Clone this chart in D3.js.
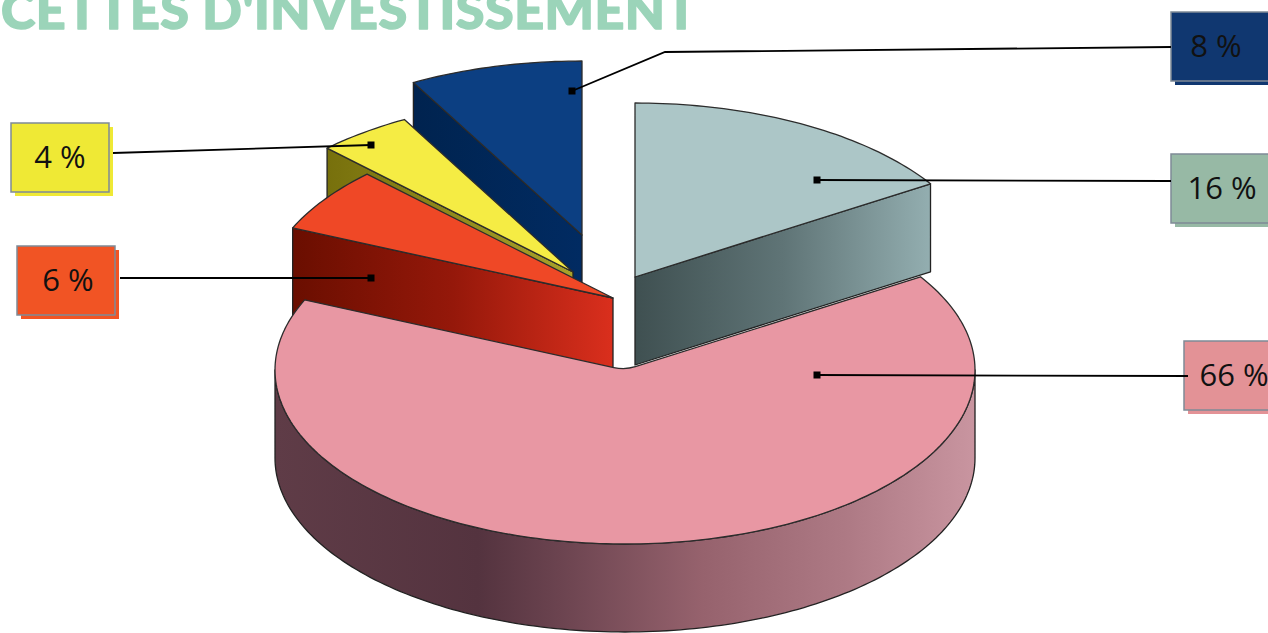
<!DOCTYPE html>
<html>
<head>
<meta charset="utf-8">
<title>Recettes d'investissement</title>
<script src="https://d3js.org/d3.v7.min.js"></script>
<style>
	html, body { margin: 0; padding: 0; background: #fff; overflow: hidden; }
	svg { display: block; }
</style>
</head>
<body>
<svg id="chart" width="1268" height="633"></svg>
<script>
// Data, clockwise from 12 o'clock
var titleText = "CETTES D'INVESTISSEMENT";
var sliceNames = ["teal", "pink", "red", "yellow", "blue"];
var sliceValues = [16, 65.6, 6, 4.4, 8];

// Layout and colours
var topColors = ["#acc6c7", "#e897a3", "#ef4826", "#f5ec44", "#0c3f82"];
var boxColors = ["#97b9a5", "#e39296", "#f15424", "#efe935", "#103770"];
var wallStops = [
	[[0, "#3f5051"], [0.5, "#5f7476"], [1, "#93aeb0"]],
	[[0, "#5f3c47"], [0.29, "#54333f"], [0.41, "#6c4450"], [0.61, "#96626d"], [0.82, "#ae7a85"], [1, "#c995a0"]],
	[[0, "#6a0e00"], [0.5, "#95180a"], [1, "#da2f1d"]],
	[[0, "#77700c"], [1, "#a9a22a"]],
	[[0, "#00234f"], [1, "#012b62"]]
];
var sliceOffsets = [[10, -93], [0, 0], [-12, -72], [-52, -98], [-43, -135]];
var drawOrder = [4, 3, 2, 0, 1];
var boxRects = [[1171, 154], [1184, 341], [17, 246], [11, 123], [1171, 12]];
var textCentres = [1222, 1234, 68, 60, 1216];
var leaders = [
	[[817, 180], [1171, 181]],
	[[817, 375], [1188, 376]],
	[[371, 278], [120, 278]],
	[[371, 145], [113, 153]],
	[[572, 91], [665, 52], [1171, 47]]
];

var cx = 625, cy = 370, rx = 350, ry = 174, depth = 88;
var boxW = 98, boxH = 69;

var svg = d3.select("#chart");
var defs = svg.append("defs");

var arcs = d3.pie().sort(null).startAngle(0).endAngle(2 * Math.PI)(sliceValues);

function rim(a, off) {
	return [cx + off[0] + rx * Math.sin(a), cy + off[1] - ry * Math.cos(a)];
}
function rimPoints(a0, a1, off) {
	var n = Math.ceil(Math.abs(a1 - a0) / 0.02);
	return d3.range(n + 1).map(function (i) { return rim(a0 + (a1 - a0) * i / n, off); });
}
function down(p) { return [p[0], p[1] + depth]; }
// point t of the way from p to q
function toward(p, q, t) { return [p[0] + (q[0] - p[0]) * t, p[1] + (q[1] - p[1]) * t]; }

var outline = d3.line();

// Title, cut off by the top of the page
svg.append("text")
	.attr("x", 1)
	.attr("y", 28.5)
	.attr("textLength", 696)
	.attr("lengthAdjust", "spacing")
	.style("font-family", "Lato, sans-serif")
	.style("font-weight", 900)
	.style("font-size", "52px")
	.style("fill", "#9bd4b9")
	.style("stroke", "#9bd4b9")
	.style("stroke-width", 1.5)
	.style("stroke-linejoin", "round")
	.text(titleText);

// Slices, back to front
drawOrder.forEach(function (i) {
	var d = arcs[i], off = sliceOffsets[i];
	var apex = [cx + off[0], cy + off[1]];
	var big = d.endAngle - d.startAngle > Math.PI;
	var wall;

	if (big) {
		// front of the rim
		var front = rimPoints(Math.PI / 2, 3 * Math.PI / 2, off);
		wall = front.concat(front.slice().reverse().map(down));
	} else {
		// the cut face that looks at the viewer
		var a = (d.startAngle + d.endAngle) / 2 < Math.PI ? d.endAngle : d.startAngle;
		var r = rim(a, off);
		wall = [apex, r, down(r), down(apex)];
	}

	var xs = d3.extent(wall, function (p) { return p[0]; });
	var grad = defs.append("linearGradient")
		.attr("id", "wall-" + sliceNames[i])
		.attr("gradientUnits", "userSpaceOnUse")
		.attr("x1", xs[0]).attr("x2", xs[1])
		.attr("y1", 0).attr("y2", 0);
	grad.selectAll("stop")
		.data(wallStops[i])
		.enter().append("stop")
		.attr("offset", function (s) { return s[0]; })
		.attr("stop-color", function (s) { return s[1]; });

	svg.append("path")
		.attr("d", outline(wall) + "Z")
		.style("fill", "url(#wall-" + sliceNames[i] + ")")
		.style("stroke", "#222")
		.style("stroke-width", 1.3)
		.style("stroke-linejoin", "round");

	var edge = rimPoints(d.startAngle, d.endAngle, off);
	var topPath;
	if (big) {
		// the big slice has a soft notch at the centre
		var p0 = toward(apex, edge[0], 0.035);
		var p1 = toward(apex, edge[edge.length - 1], 0.035);
		topPath = "M" + p0 + outline(edge).replace("M", "L") + "L" + p1 + "Q" + apex + " " + p0 + "Z";
	} else {
		topPath = outline([apex].concat(edge)) + "Z";
	}
	svg.append("path")
		.attr("d", topPath)
		.style("fill", topColors[i])
		.style("stroke", "#2c2c2c")
		.style("stroke-width", 1.3)
		.style("stroke-linejoin", "round");
});

// Callout boxes: a flat shadow, then the box
var boxes = svg.selectAll("g.box")
	.data(arcs)
	.enter().append("g")
	.attr("class", "box")
	.attr("transform", function (d, i) { return "translate(" + boxRects[i][0] + "," + boxRects[i][1] + ")"; });

boxes.append("rect")
	.attr("x", 4).attr("y", 4)
	.attr("width", boxW).attr("height", boxH)
	.style("fill", function (d, i) { return boxColors[i]; });

boxes.append("rect")
	.attr("width", boxW).attr("height", boxH)
	.style("fill", function (d, i) { return boxColors[i]; })
	.style("stroke", "#7f8a96")
	.style("stroke-width", 1.5);

boxes.append("text")
	.attr("x", function (d, i) { return textCentres[i] - boxRects[i][0]; })
	.attr("y", 45)
	.attr("text-anchor", "middle")
	.style("font-family", "'Open Sans', sans-serif")
	.style("font-size", "31px")
	.style("fill", "#111")
	.text(function (d) { return d3.format(".0f")(d.value) + " %"; });

// Leader lines with square ends
leaders.forEach(function (pts) {
	svg.append("path")
		.attr("d", outline(pts))
		.style("fill", "none")
		.style("stroke", "#000")
		.style("stroke-width", 1.8);
	svg.append("rect")
		.attr("x", pts[0][0] - 3.5)
		.attr("y", pts[0][1] - 3.5)
		.attr("width", 7)
		.attr("height", 7)
		.style("fill", "#000");
});
</script>
</body>
</html>
